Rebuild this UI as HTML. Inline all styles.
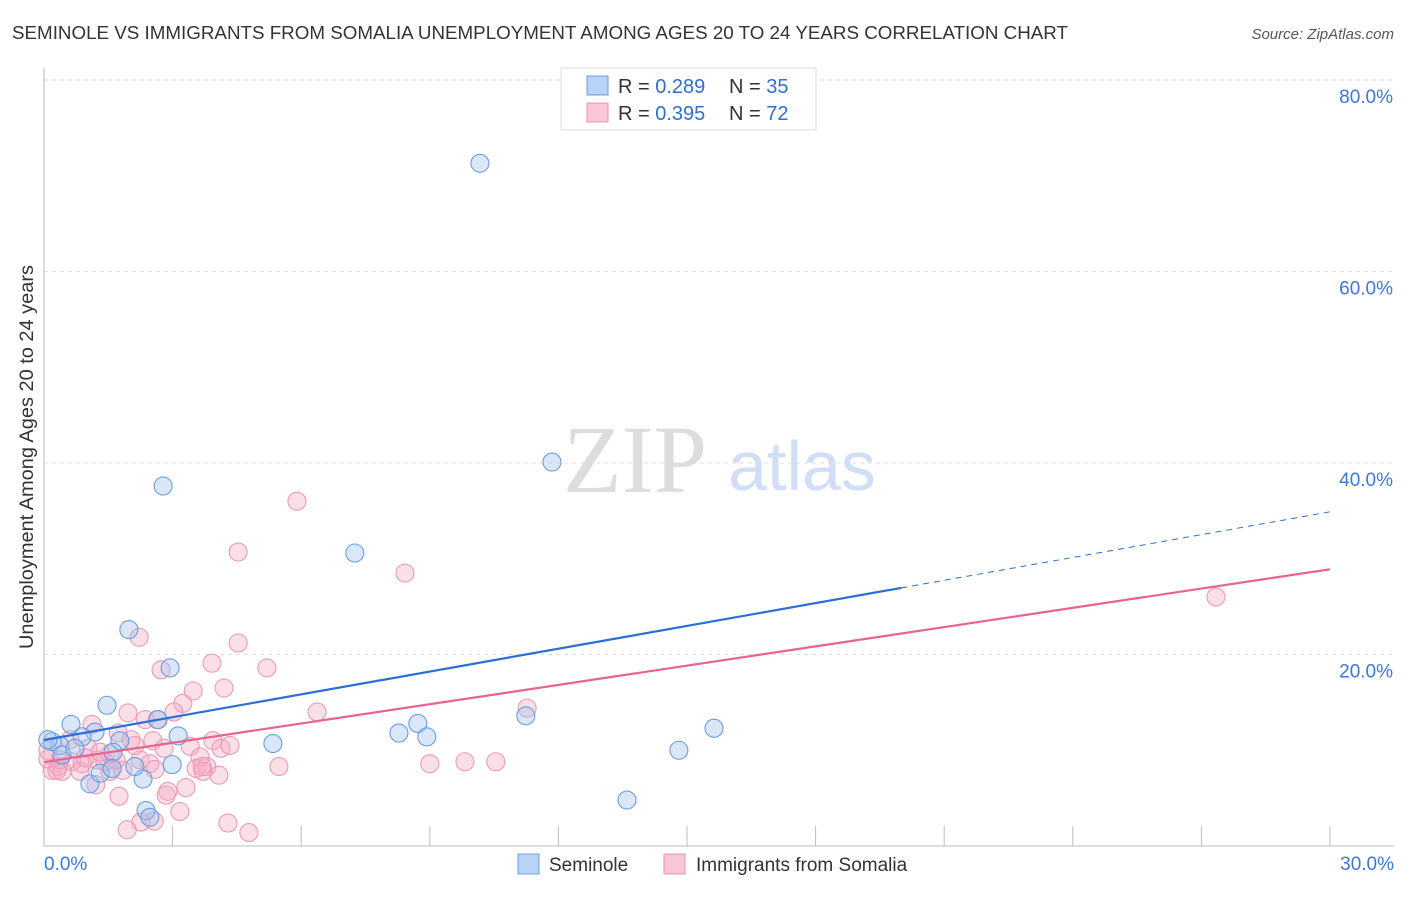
<!DOCTYPE html>
<html><head><meta charset="utf-8"><style>
body{margin:0;background:#fff;font-family:"Liberation Sans",sans-serif}
svg text{font-family:"Liberation Sans",sans-serif}
</style></head><body>
<svg id="c" width="1406" height="892">
<text x="12" y="39" font-size="18" fill="#333" textLength="1056" lengthAdjust="spacingAndGlyphs">SEMINOLE VS IMMIGRANTS FROM SOMALIA UNEMPLOYMENT AMONG AGES 20 TO 24 YEARS CORRELATION CHART</text>
<text x="1394" y="39" font-size="15" fill="#555" font-style="italic" text-anchor="end">Source: ZipAtlas.com</text>
<text x="635" y="492" font-size="96" fill="#ddd" text-anchor="middle" font-family="Liberation Serif" style="font-family:'Liberation Serif',serif">ZIP</text>
<text x="802" y="490" font-size="70" fill="#d0dff5" text-anchor="middle">atlas</text>
<text transform="translate(33,457) rotate(-90)" font-size="19" fill="#333" text-anchor="middle" textLength="384" lengthAdjust="spacingAndGlyphs">Unemployment Among Ages 20 to 24 years</text>
<g id="grid"></g><g id="marks"></g><g id="lines"></g>
<g>
<rect x="561" y="68" width="255" height="62" fill="#fff" stroke="#ddd"/>
<rect x="587" y="76" width="21" height="19" fill="#b8d3f5" stroke="#6a9ee0"/>
<rect x="587" y="103" width="21" height="19" fill="#f9c6d5" stroke="#ea93ad"/>
<text x="618" y="93" font-size="20" fill="#333">R = <tspan fill="#2f6fd0">0.289</tspan><tspan x="729">N = </tspan><tspan fill="#2f6fd0">35</tspan></text>
<text x="618" y="120" font-size="20" fill="#333">R = <tspan fill="#2f6fd0">0.395</tspan><tspan x="729">N = </tspan><tspan fill="#2f6fd0">72</tspan></text>
</g>
<g>
<rect x="518" y="854" width="21" height="20" fill="#b8d3f5" stroke="#6a9ee0"/>
<text x="549" y="871" font-size="19" fill="#333">Seminole</text>
<rect x="664" y="854" width="21" height="20" fill="#f9c6d5" stroke="#ea93ad"/>
<text x="696" y="871" font-size="19" fill="#333">Immigrants from Somalia</text>
</g>
</svg>
<script>
const yTicks=[20,40,60,80];
const xLabels=["0.0%","30.0%"];
const blueX=[10.17,11.85,2.78,7.25,1.98,2.94,1.47,0.63,1.19,0.89,1.77,3.13,2.66,5.34,8.28,8.72,8.93,11.24,15.63,14.81,13.6,2.38,2.47,2.31,2.12,1.07,1.31,1.61,0.37,0.19,0.09,0.42,0.72,2.99,1.59];
const blueY=[71.3,40.1,37.6,30.6,22.6,18.6,14.7,12.7,11.9,11.4,11.0,11.5,13.2,10.7,11.8,12.8,11.4,13.6,12.3,10.0,4.8,3.7,3.0,7.0,8.3,6.5,7.6,9.8,10.5,10.9,11.1,9.5,10.2,8.5,8.1];
const pinkX=[5.90,4.53,8.42,27.34,2.22,4.53,3.92,5.20,2.73,3.48,4.20,3.24,3.03,6.37,11.27,1.96,1.12,2.36,2.64,1.73,2.03,2.54,3.94,3.41,4.13,2.80,1.54,2.24,3.64,1.24,1.42,0.89,0.65,0.33,0.19,0.42,0.84,1.54,1.84,2.47,2.59,3.55,3.80,4.08,3.71,5.48,9.00,9.82,10.54,3.31,2.89,2.85,1.75,1.21,3.17,2.57,2.26,1.94,4.29,4.78,0.09,0.37,1.03,1.31,2.12,0.09,0.61,0.30,0.96,1.68,4.34,3.69];
const pinkY=[36.0,30.7,28.5,26.0,21.8,21.2,19.1,18.6,18.4,16.2,16.5,14.9,14.0,14.0,14.4,13.9,12.7,13.2,13.2,11.8,11.1,11.0,11.0,10.4,10.2,10.2,9.6,9.0,9.3,9.0,8.8,8.6,8.8,8.3,7.9,7.8,7.8,7.8,7.9,8.6,8.0,8.1,8.3,7.4,7.8,8.3,8.6,8.8,8.8,6.1,5.7,5.3,5.2,6.4,3.6,2.6,2.5,1.7,2.4,1.4,9.1,9.0,10.2,9.8,10.5,10.0,11.1,7.9,9.2,9.0,10.5,8.3];
const blueTrend=[11.07,34.9];   // y at x=0 and x=30
const pinkTrend=[8.77,28.9];
const blueSolidEnd=20;
const X0=44,X1=1330,Y0=846,PPY=9.575;
const sx=v=>X0+(X1-X0)*v/30, sy=v=>Y0-v*PPY;
const NS="http://www.w3.org/2000/svg";
function mk(t,a,p){const e=document.createElementNS(NS,t);for(const k in a)e.setAttribute(k,a[k]);p.appendChild(e);return e;}
const grid=document.getElementById('grid');
yTicks.forEach(t=>{
 const l=mk('line',{x1:X0,x2:1394,y1:sy(t),y2:sy(t),stroke:'#ddd','stroke-dasharray':'4,4'},grid);
 
 
 const tx=mk('text',{x:1393,y:sy(t)+23,'font-size':19,fill:'#3d78d8','text-anchor':'end'},grid);
 tx.textContent=t.toFixed(1)+'%';
 
 
});
const ax=mk('path',{d:`M${X0},68V${Y0}H1394`,stroke:'#bbb',fill:'none'},grid);


for(let i=0;i<=10;i++){
 const t=mk('line',{x1:sx(i*3),x2:sx(i*3),y1:Y0,y2:826,stroke:'#bbb'},grid);
 
 
}
[[xLabels[0],X0,'start'],[xLabels[1],1394,'end']].forEach(([s,x,a],i)=>{
 const t=mk('text',{x:x,y:870,'font-size':19,fill:'#3d78d8','text-anchor':a},grid);
 t.textContent=s;
 
 
});
const marks=document.getElementById('marks');
pinkX.forEach((v,i)=>{
 const c=mk('circle',{cx:sx(v),cy:sy(pinkY[i]),r:9,fill:'rgba(245,170,195,0.38)',stroke:'#ec9ab3','stroke-width':1.1},marks);
 
 
});
blueX.forEach((v,i)=>{
 const c=mk('circle',{cx:sx(v),cy:sy(blueY[i]),r:9,fill:'rgba(160,195,240,0.4)',stroke:'#6a9de0','stroke-width':1.1},marks);
 
 
});
const lines=document.getElementById('lines');
const bAt=x=>blueTrend[0]+(blueTrend[1]-blueTrend[0])*x/30;
const pAt=x=>pinkTrend[0]+(pinkTrend[1]-pinkTrend[0])*x/30;
let l=mk('line',{x1:sx(0),y1:sy(bAt(0)),x2:sx(blueSolidEnd),y2:sy(bAt(blueSolidEnd)),stroke:'#2a6fd6','stroke-width':2.2},lines);


l=mk('line',{x1:sx(blueSolidEnd),y1:sy(bAt(blueSolidEnd)),x2:sx(30),y2:sy(bAt(30)),stroke:'#2a6fd6','stroke-width':1,'stroke-dasharray':'6,5'},lines);


l=mk('line',{x1:sx(0),y1:sy(pAt(0)),x2:sx(30),y2:sy(pAt(30)),stroke:'#e8638e','stroke-width':2.2},lines);


</script>
</body></html>
